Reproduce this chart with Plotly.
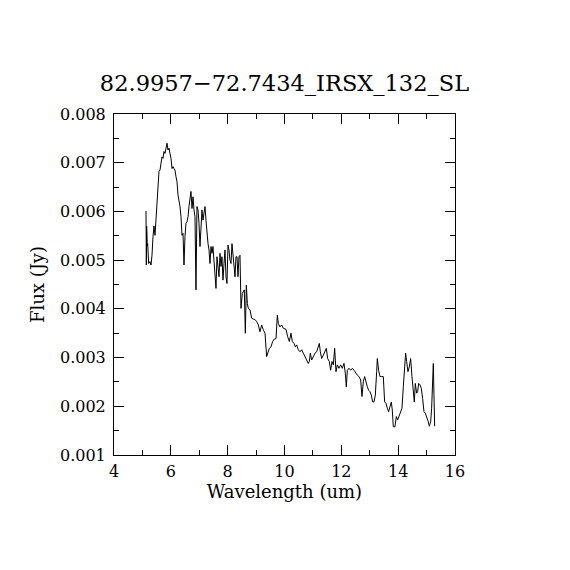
import plotly.graph_objects as go

wavelength = [
    5.126, 5.138, 5.149, 5.173, 5.185, 5.220, 5.267, 5.302, 5.337, 5.372,
    5.407, 5.443, 5.478, 5.513, 5.548, 5.583, 5.619, 5.654, 5.689, 5.724,
    5.759, 5.794, 5.830, 5.865, 5.900, 5.935, 5.970, 6.006, 6.041, 6.076,
    6.111, 6.146, 6.182, 6.217, 6.252, 6.287, 6.322, 6.358, 6.393, 6.428,
    6.463, 6.498, 6.533, 6.569, 6.604, 6.639, 6.674, 6.709, 6.745, 6.780,
    6.815, 6.850, 6.885, 6.920, 6.956, 6.991, 7.026, 7.061, 7.096, 7.132,
    7.167, 7.202, 7.237, 7.272, 7.308, 7.343, 7.378, 7.413, 7.448, 7.483,
    7.519, 7.554, 7.589, 7.624, 7.659, 7.695, 7.730, 7.765, 7.800, 7.835,
    7.871, 7.906, 7.941, 7.976, 8.011, 8.046, 8.082, 8.117, 8.152, 8.187,
    8.222, 8.258, 8.293, 8.328, 8.363, 8.398, 8.434,
    8.469, 8.516, 8.586, 8.622, 8.657, 8.692, 8.727, 8.786, 8.844, 8.903,
    8.962, 9.020, 9.079, 9.138, 9.196, 9.255, 9.314, 9.372, 9.407, 9.466,
    9.525, 9.583, 9.642, 9.701, 9.748, 9.783, 9.841, 9.900, 9.959, 10.052,
    10.111, 10.170, 10.228, 10.275, 10.334, 10.381, 10.428, 10.486, 10.545, 10.604,
    10.662, 10.721, 10.780, 10.838, 10.873, 10.909, 10.956, 11.014, 11.073, 11.132,
    11.190, 11.225, 11.261, 11.308, 11.366, 11.425, 11.472, 11.519, 11.577, 11.624,
    11.671, 11.718, 11.765, 11.812, 11.859, 11.917, 11.976, 12.035, 12.093, 12.140,
    12.175, 12.211, 12.269, 12.328, 12.387, 12.445, 12.504, 12.563, 12.621, 12.680,
    12.727, 12.774, 12.821, 12.868, 12.914, 12.961, 13.008, 13.055, 13.102, 13.149,
    13.196, 13.243, 13.266, 13.313, 13.360, 13.419, 13.477, 13.524, 13.571, 13.618,
    13.665, 13.712, 13.759, 13.794, 13.829, 13.888, 13.935, 13.982, 14.028, 14.087,
    14.134, 14.181, 14.228, 14.263, 14.298, 14.345, 14.392, 14.439, 14.486, 14.533,
    14.568, 14.603, 14.650, 14.685, 14.721, 14.768, 14.814, 14.861, 14.908, 14.955,
    15.002, 15.061, 15.096, 15.143, 15.178, 15.213, 15.237, 15.260, 15.284,
]

flux = [
    0.00601, 0.00490, 0.00570, 0.00529, 0.00534, 0.00493, 0.00497, 0.00490, 0.00510, 0.00548,
    0.00570, 0.00551, 0.00589, 0.00623, 0.00641, 0.00682, 0.00685, 0.00699, 0.00712, 0.00709,
    0.00723, 0.00719, 0.00733, 0.00740, 0.00726, 0.00730, 0.00719, 0.00709, 0.00688, 0.00692,
    0.00688, 0.00685, 0.00671, 0.00661, 0.00634, 0.00623, 0.00610, 0.00589, 0.00551, 0.00555,
    0.00490, 0.00548, 0.00576, 0.00579, 0.00589, 0.00610, 0.00623, 0.00641, 0.00606, 0.00630,
    0.00603, 0.00589, 0.00439, 0.00610, 0.00603, 0.00576, 0.00528, 0.00569, 0.00603, 0.00582,
    0.00603, 0.00610, 0.00582, 0.00548, 0.00534, 0.00521, 0.00493, 0.00528, 0.00514, 0.00528,
    0.00493, 0.00480, 0.00442, 0.00507, 0.00487, 0.00466, 0.00514, 0.00487, 0.00507, 0.00459,
    0.00493, 0.00521, 0.00466, 0.00452, 0.00531, 0.00521, 0.00500, 0.00493, 0.00534, 0.00514,
    0.00480, 0.00466, 0.00507, 0.00507, 0.00466, 0.00507, 0.00510,
    0.00401, 0.00432, 0.00439, 0.00350, 0.00449, 0.00411, 0.00401, 0.00398, 0.00381, 0.00379,
    0.00378, 0.00374, 0.00367, 0.00353, 0.00367, 0.00357, 0.00350, 0.00302, 0.00309, 0.00319,
    0.00322, 0.00333, 0.00338, 0.00339, 0.00387, 0.00370, 0.00363, 0.00367, 0.00360, 0.00358,
    0.00343, 0.00333, 0.00350, 0.00333, 0.00329, 0.00322, 0.00326, 0.00316, 0.00312, 0.00316,
    0.00309, 0.00302, 0.00292, 0.00288, 0.00292, 0.00309, 0.00295, 0.00302, 0.00309, 0.00312,
    0.00322, 0.00329, 0.00312, 0.00298, 0.00305, 0.00312, 0.00319, 0.00298, 0.00292, 0.00274,
    0.00292, 0.00285, 0.00319, 0.00271, 0.00285, 0.00278, 0.00285, 0.00278, 0.00288, 0.00268,
    0.00240, 0.00274, 0.00278, 0.00274, 0.00278, 0.00274, 0.00268, 0.00264, 0.00261, 0.00254,
    0.00220, 0.00251, 0.00261, 0.00247, 0.00240, 0.00233, 0.00230, 0.00223, 0.00209, 0.00209,
    0.00223, 0.00271, 0.00298, 0.00274, 0.00261, 0.00261, 0.00261, 0.00209, 0.00206, 0.00196,
    0.00189, 0.00199, 0.00209, 0.00192, 0.00158, 0.00158, 0.00179, 0.00172, 0.00179, 0.00189,
    0.00196, 0.00240, 0.00281, 0.00309, 0.00292, 0.00271, 0.00281, 0.00298, 0.00261, 0.00220,
    0.00209, 0.00247, 0.00227, 0.00230, 0.00247, 0.00244, 0.00237, 0.00216, 0.00189, 0.00186,
    0.00179, 0.00168, 0.00159, 0.00168, 0.00196, 0.00251, 0.00288, 0.00223, 0.00159,
]

title_text = "82.9957\u221272.7434_IRSX_132_SL"
x_label = "Wavelength (um)"
y_label = "Flux (Jy)"

FONT = "DejaVu Serif"

fig = go.Figure()
fig.add_trace(go.Scatter(
    x=wavelength, y=flux, mode="lines",
    line=dict(color="black", width=1),
    showlegend=False,
))

axis_common = dict(
    showline=True, linecolor="black", linewidth=1,
    mirror="ticks", ticks="inside", ticklen=10, tickwidth=1, tickcolor="black",
    showgrid=False, zeroline=False,
    tickfont=dict(family=FONT, size=16, color="black"),
)

fig.update_xaxes(
    range=[4, 16], dtick=2, tick0=4, ticklabelstandoff=2,
    minor=dict(ticks="inside", ticklen=5, dtick=1, tickcolor="black", showgrid=False),
    title=dict(text=x_label, font=dict(family=FONT, size=18, color="black"), standoff=4),
    **axis_common,
)
fig.update_yaxes(
    range=[0.001, 0.008], dtick=0.001, tick0=0.001, tickformat=".3f", ticklabelstandoff=4,
    minor=dict(ticks="inside", ticklen=5, dtick=0.0005, tickcolor="black", showgrid=False),
    title=dict(text=y_label, font=dict(family=FONT, size=18, color="black"), standoff=10),
    **axis_common,
)

fig.update_layout(
    width=570, height=570,
    margin=dict(l=106, r=123, t=106, b=123, autoexpand=False),
    paper_bgcolor="white", plot_bgcolor="white",
    title=dict(text=title_text, x=(106 + 341 / 2) / 570, xanchor="center",
               y=1 - 75 / 570, yanchor="middle",
               font=dict(family=FONT, size=22.5, color="black")),
)

fig.write_html("out.html")
